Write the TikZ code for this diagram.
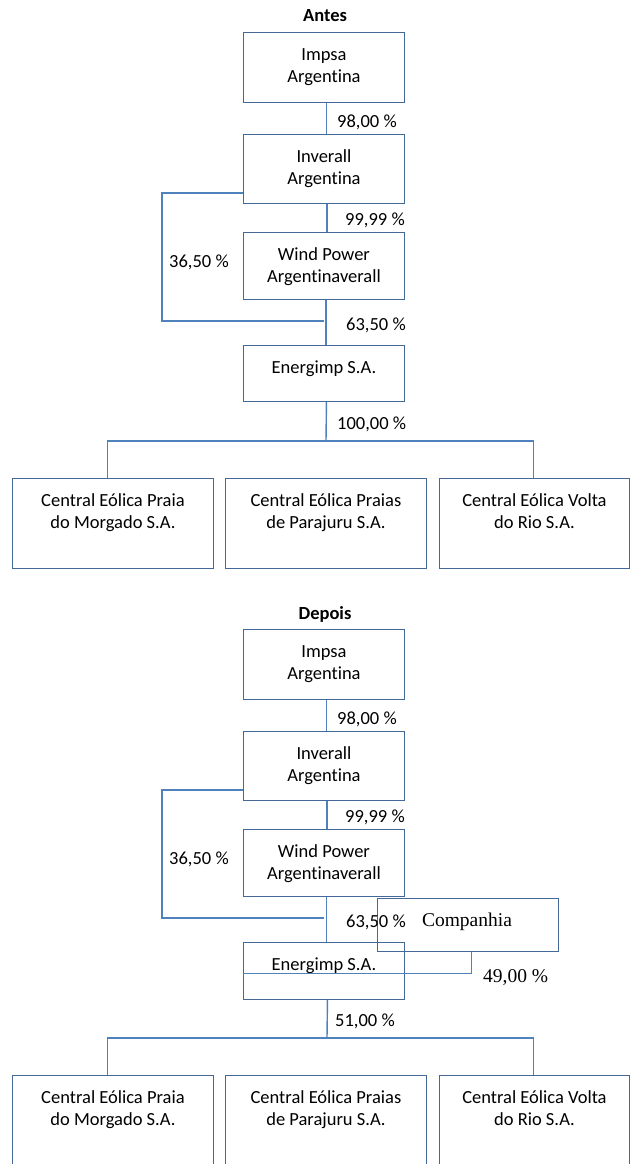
\documentclass[tikz,border=0pt]{standalone}
\usepackage{fontspec}
\setmainfont{Carlito}[Ligatures={NoCommon}]
\newfontfamily\serifc{Liberation Serif}
\definecolor{boxc}{RGB}{68,104,152}
\definecolor{conc}{RGB}{79,129,189}
\begin{document}
\begin{tikzpicture}[x=1pt,y=-1pt,
 box/.style={draw=boxc,line width=0.9pt,inner sep=0pt,anchor=north west},
 txt/.style={inner sep=0pt,align=center,anchor=north,font=\fontsize{18.5}{22}\selectfont},
 lbl/.style={inner sep=0pt,anchor=base west,font=\fontsize{18.5}{22}\selectfont},
 slbl/.style={inner sep=0pt,anchor=base west,font=\serifc\fontsize{19.5}{23}\selectfont},
 ttl/.style={inner sep=0pt,anchor=base,font=\bfseries\fontsize{18.5}{22}\selectfont},
 conn/.style={draw=conc,line width=1.4pt}]
\useasboundingbox (0,0) rectangle (630,1164);
\clip (0,0) rectangle (630,1164);

% ---------------- Antes ----------------
\node[ttl] (tA) at (325,22) {Antes};
\node[box,minimum width=161pt,minimum height=70pt] (aImp) at (243,32) {};
\node[txt] (aImpT) at ([yshift=-13pt]aImp.north) {\strut Impsa\\Argentina};
\node[box,minimum width=161pt,minimum height=69pt] (aInv) at (243,134) {};
\node[txt] (aInvT) at ([yshift=-12.5pt]aInv.north) {\strut Inverall\\Argentina};
\node[box,minimum width=161pt,minimum height=67pt] (aWP) at (243,232) {};
\node[txt] (aWPT) at ([yshift=-13pt]aWP.north) {\strut Wind Power\\Argentinaverall};
\node[box,minimum width=161pt,minimum height=56pt] (aEn) at (243,345) {};
\node[txt] (aEnT) at ([yshift=-13pt]aEn.north) {\strut Energimp S.A.};
\node[box,minimum width=201pt,minimum height=90pt] (aC1) at (12,478) {};
\node[txt] (aC1T) at ([yshift=-13pt]aC1.north) {\strut Central Eólica Praia\\do Morgado S.A.};
\node[box,minimum width=201pt,minimum height=90pt] (aC2) at (225,478) {};
\node[txt] (aC2T) at ([yshift=-13pt]aC2.north) {\strut Central Eólica Praias\\de Parajuru S.A.};
\node[box,minimum width=190pt,minimum height=90pt] (aC3) at (439,478) {};
\node[txt] (aC3T) at ([yshift=-13pt]aC3.north) {\strut Central Eólica Volta\\do Rio S.A.};

\draw[conn] ([xshift=2.5pt]aImp.south) -- ([xshift=2.5pt]aInv.north);
\draw[conn] ([xshift=3pt]aInv.south) -- ([xshift=3pt]aWP.north);
\draw[conn] ([xshift=2pt]aWP.south) -- ([xshift=2pt]aEn.north);
\coordinate (aB) at (162,321);
\draw[conn] ([yshift=11pt]aInv.south west) -| (aB) -- (aB -| aWP.south);
\coordinate (aBus) at (326,441);
\draw[conn] ([xshift=2.5pt]aEn.south) -- (aBus);
\draw[conn] ([xshift=-5.5pt]aC1.north) |- (aBus) -| ([xshift=-1pt]aC3.north);

\node[lbl] (aP1) at (337,127) {98,00 \%};
\node[lbl] (aP2) at (345,225) {99,99 \%};
\node[lbl] (aP3) at (169,267) {36,50 \%};
\node[lbl] (aP4) at (346,330) {63,50 \%};
\node[lbl] (aP5) at (337,429) {100,00 \%};

% ---------------- Depois ----------------
\node[ttl] (tD) at (325,619) {Depois};
\node[box,minimum width=161pt,minimum height=70pt] (dImp) at (243,629) {};
\node[txt] (dImpT) at ([yshift=-13pt]dImp.north) {\strut Impsa\\Argentina};
\node[box,minimum width=161pt,minimum height=69pt] (dInv) at (243,731) {};
\node[txt] (dInvT) at ([yshift=-12.5pt]dInv.north) {\strut Inverall\\Argentina};
\node[box,minimum width=161pt,minimum height=67pt] (dWP) at (243,829) {};
\node[txt] (dWPT) at ([yshift=-13pt]dWP.north) {\strut Wind Power\\Argentinaverall};
\node[box,minimum width=161pt,minimum height=57pt] (dEn) at (243,942) {};
\node[txt] (dEnT) at ([yshift=-13pt]dEn.north) {\strut Energimp S.A.};
\node[box,minimum width=181pt,minimum height=53pt] (dCo) at (377,898) {};
\node[inner sep=0pt,anchor=base,font=\serifc\fontsize{19.5}{23}\selectfont] (dCoT) at (467,926) {Companhia};
\node[box,minimum width=201pt,minimum height=90pt] (dC1) at (12,1075) {};
\node[txt] (dC1T) at ([yshift=-13pt]dC1.north) {\strut Central Eólica Praia\\do Morgado S.A.};
\node[box,minimum width=201pt,minimum height=90pt] (dC2) at (225,1075) {};
\node[txt] (dC2T) at ([yshift=-13pt]dC2.north) {\strut Central Eólica Praias\\de Parajuru S.A.};
\node[box,minimum width=190pt,minimum height=90pt] (dC3) at (439,1075) {};
\node[txt] (dC3T) at ([yshift=-13pt]dC3.north) {\strut Central Eólica Volta\\do Rio S.A.};

\draw[conn] ([xshift=2.5pt]dImp.south) -- ([xshift=2.5pt]dInv.north);
\draw[conn] ([xshift=3pt]dInv.south) -- ([xshift=3pt]dWP.north);
\draw[conn] ([xshift=2.5pt]dWP.south) -- ([xshift=2.5pt]dEn.north);
\coordinate (dB) at (162,918);
\draw[conn] ([yshift=11pt]dInv.south west) -| (dB) -- (dB -| dWP.south);
\draw[conn] ([xshift=3.5pt]dCo.south) |- ([yshift=-2.5pt]dEn.west);
\coordinate (dBus) at (327,1038);
\draw[conn] ([xshift=3.5pt]dEn.south) -- (dBus);
\draw[conn] ([xshift=-5.5pt]dC1.north) |- (dBus) -| ([xshift=-1pt]dC3.north);

\node[lbl] (dP1) at (337,724) {98,00 \%};
\node[lbl] (dP2) at (345,822) {99,99 \%};
\node[lbl] (dP3) at (169,864) {36,50 \%};
\node[lbl] (dP4) at (346,927) {63,50 \%};
\node[slbl] (dP5) at (483,982) {49,00 \%};
\node[lbl] (dP6) at (335,1026) {51,00 \%};
\end{tikzpicture}
\end{document}
